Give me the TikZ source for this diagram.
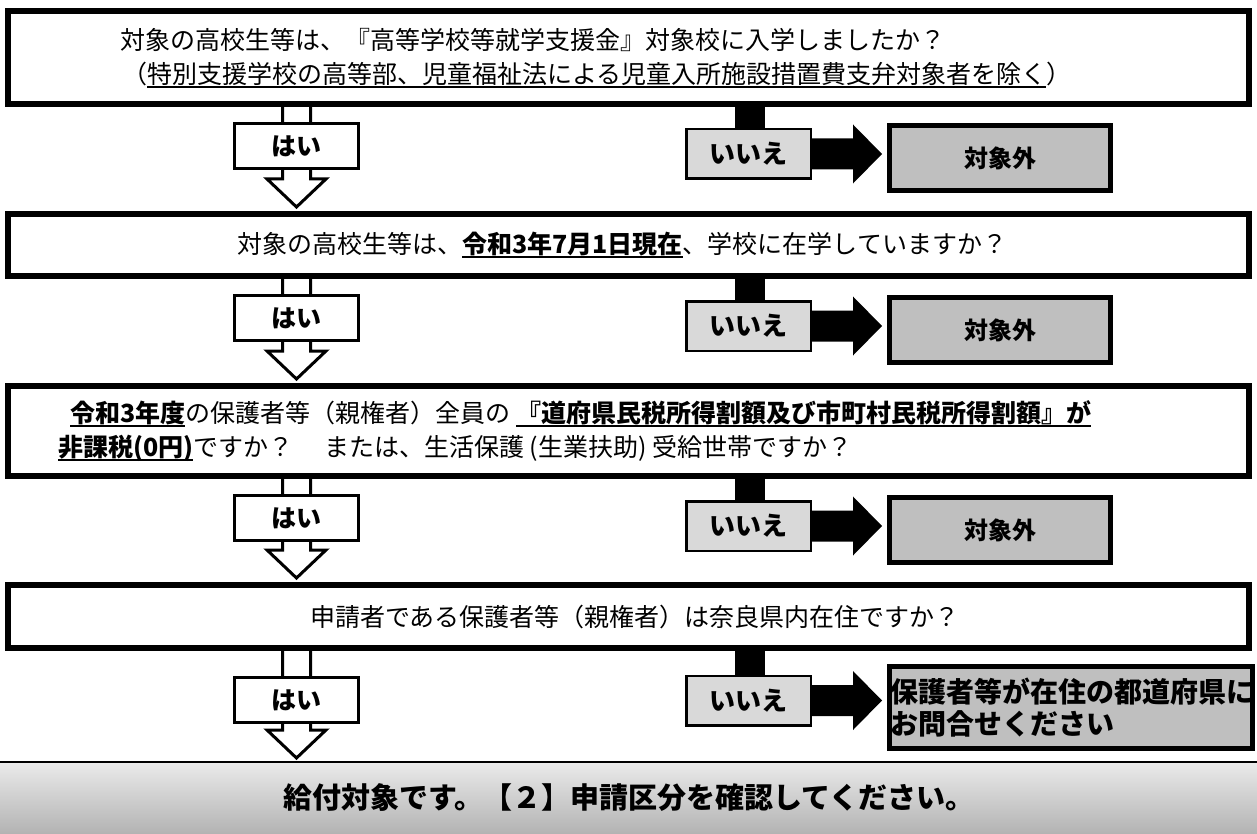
\documentclass[tikz,border=0pt]{standalone}
\usepackage{fontspec}
\setmainfont{Noto Sans CJK JP}
\usetikzlibrary{calc,backgrounds}
\newcommand\ULn[1]{\setbox0=\hbox{#1}\rlap{\vrule width\wd0 height -2.5pt depth 4.5pt}\box0}
\tikzset{
  qbox/.style={draw=black, line width=6pt, fill=white, minimum width=1241pt, inner sep=0pt},
  qtext/.style={inner sep=0pt, font=\fontsize{25}{30}\selectfont},
  yesbox/.style={draw=black, line width=3pt, fill=white, minimum width=124pt, minimum height=45pt, inner sep=0pt, font=\fontsize{25}{30}\selectfont\bfseries},
  nobox/.style={draw=black, line width=2.5pt, fill=black!15, minimum width=124.5pt, minimum height=49.5pt, inner sep=0pt, font=\fontsize{26}{30}\selectfont\bfseries},
  outbox/.style={draw=black, line width=5pt, fill=black!25, minimum width=221pt, minimum height=65pt, inner sep=0pt, font=\fontsize{24}{30}\selectfont\bfseries},
  hollowarrow/.style={draw=black, line width=3pt, fill=white},
  stem/.style={draw=black, line width=30pt},
}
\begin{document}
\begin{tikzpicture}[x=1pt,y=-1pt]
\useasboundingbox (0,0) rectangle (1257,834);

% question boxes
\node[qbox, minimum height=93pt] (q1) at (628.5,57.5) {};
\node[qbox, minimum height=62pt] (q2) at (628.5,245) {};
\node[qbox, minimum height=90pt] (q3) at (628.5,431) {};
\node[qbox, minimum height=63pt] (q4) at (628.5,616.5) {};

% bottom bar
\node[minimum width=1257pt, minimum height=72pt, inner sep=0pt, outer sep=0pt,
      top color=black!8, bottom color=black!30] (bar) at (628.5,798) {};
\draw[line width=1.5pt] (bar.north west) -- (bar.north east);
\node[inner sep=0pt, font=\fontsize{29}{32}\selectfont\bfseries] (bart) at (629,798)
  {給付対象です。【２】申請区分を確認してください。};

% question texts
\node[qtext, anchor=west] (t1a) at (120,40) {対象の高校生等は、『高等学校等就学支援金』対象校に入学しましたか？};
\node[qtext, anchor=west] (t1b) at (122,75) {（\ULn{特別支援学校の高等部、児童福祉法による児童入所施設措置費支弁対象者を除く}）};
\node[qtext, anchor=west] (t2) at (237,245) {対象の高校生等は、\ULn{\bfseries 令和3年7月1日現在}、学校に在学していますか？};
\node[qtext, anchor=west] (t3a) at (70,413.5) {\ULn{\bfseries 令和3年度}の保護者等（親権者）全員の \ULn{\bfseries 『道府県民税所得割額及び市町村民税所得割額』が}};
\node[qtext, anchor=west] (t3b) at (58,448.5) {\ULn{\bfseries 非課税(0円)}ですか？　 または、生活保護 (生業扶助) 受給世帯ですか？};
\node[qtext, anchor=west] (t4) at (310,616.5) {申請者である保護者等（親権者）は奈良県内在住ですか？};

% yes boxes
\node[yesbox] (yes1) at (296.5,146) {はい};
\node[yesbox] (yes2) at (296.5,318) {はい};
\node[yesbox] (yes3) at (296.5,518) {はい};
\node[yesbox] (yes4) at (296.5,700) {はい};

% no boxes
\node[nobox] (no1) at (748.5,154) {いいえ};
\node[nobox] (no2) at (748.5,326) {いいえ};
\node[nobox] (no3) at (748.5,526) {いいえ};
\node[nobox] (no4) at (748.5,700.5) {いいえ};

% out boxes
\node[outbox] (out1) at (1000,158) {対象外};
\node[outbox] (out2) at (1000,330) {対象外};
\node[outbox] (out3) at (1000,530) {対象外};
\node[outbox, minimum width=363pt, minimum height=82pt] (out4) at (1071,707.5) {};
\node[inner sep=0pt, anchor=west, align=left, font=\fontsize{28}{32}\selectfont\bfseries] (out4t) at (890,707.5)
  {保護者等が在住の都道府県に\\お問合せください};

\begin{pgfonlayer}{background}
\fill[white] (0,0) rectangle (1257,834);
% hollow "yes" arrows
\foreach \a/\b/\y in {q1/q2/yes1, q2/q3/yes2, q3/q4/yes3, q4/bar/yes4}{
  \draw[hollowarrow]
    ($(\a.south -| \y)+(-14,0)$) -- ($(\b.north -| \y)+(-14,-32)$) -- ++(-15.5,0)
    -- ($(\b.north -| \y)+(0,-4)$) -- ($(\b.north -| \y)+(29.5,-32)$) -- ++(-15.5,0)
    -- ($(\a.south -| \y)+(14,0)$);
}
% black "no" stems and arrows
\foreach \a/\n/\o in {q1/no1/out1, q2/no2/out2, q3/no3/out3, q4/no4/out4}{
  \draw[stem] ($(\a.south -| \n.north)+(1.5,-2)$) -- ($(\n.north)+(1.5,0)$);
  \fill[black] ($(\n.east)+(0,-15.5)$) -- ($(\o.west |- \n.east)+(-34,-15.5)$) -- ++(0,-14)
    -- ($(\o.west |- \n.east)+(-5,0)$) -- ($(\o.west |- \n.east)+(-34,29.5)$) -- ++(0,-14)
    -- ($(\n.east)+(0,15.5)$) -- cycle;
}
\end{pgfonlayer}
\end{tikzpicture}
\end{document}
